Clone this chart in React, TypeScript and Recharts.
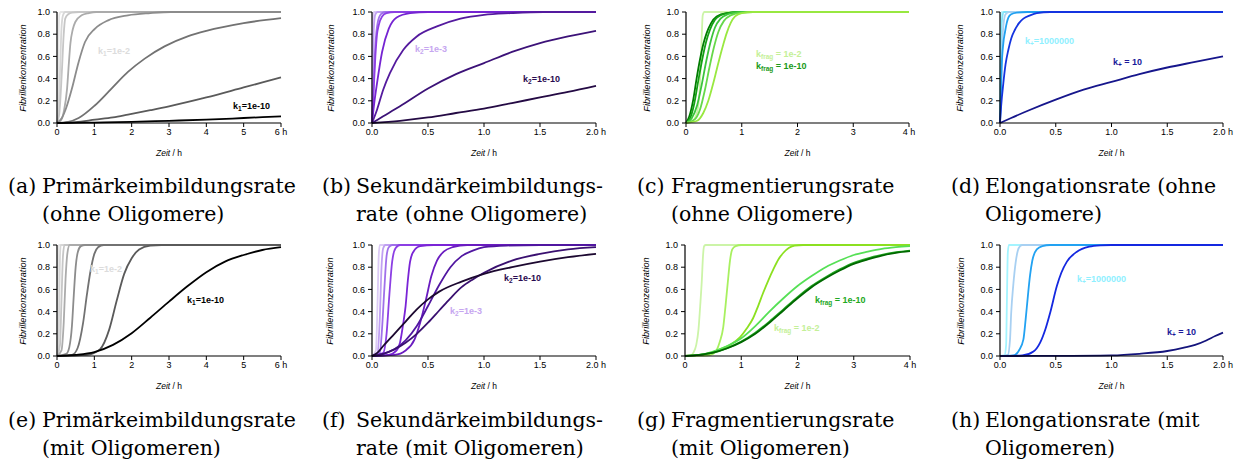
import React from "react";
import { LineChart, Line, XAxis, YAxis } from "recharts";

type Pt = [number, number];

// x ticks
const ticks6 = [0, 1, 2, 3, 4, 5, 6];
const labels6 = ["0", "1", "2", "3", "4", "5", "6 h"];
const ticks2 = [0, 0.5, 1, 1.5, 2];
const labels2 = ["0.0", "0.5", "1.0", "1.5", "2.0 h"];
const ticks4 = [0, 1, 2, 3, 4];
const labels4 = ["0", "1", "2", "3", "4 h"];
const yTicks = [0, 0.2, 0.4, 0.6, 0.8, 1];

// (a) primary nucleation, no oligomers  [t in h, concentration]
const a1: Pt[] = [[0, 0], [0.02, 0.1], [0.04, 0.7], [0.06, 0.97], [0.1, 1], [6, 1]];
const a2: Pt[] = [[0, 0], [0.04, 0.1], [0.08, 0.45], [0.12, 0.85], [0.16, 0.97], [0.22, 1], [6, 1]];
const a3: Pt[] = [[0, 0], [0.06, 0.08], [0.13, 0.46], [0.18, 0.8], [0.22, 0.94], [0.3, 0.98], [0.4, 0.995], [0.6, 1], [6, 1]];
const a4: Pt[] = [[0, 0], [0.1, 0.02], [0.18, 0.1], [0.27, 0.31], [0.32, 0.55], [0.36, 0.72], [0.42, 0.84], [0.49, 0.91], [0.66, 0.97], [0.85, 0.99], [1.05, 1], [6, 1]];
const a5: Pt[] = [[0, 0], [0.13, 0.045], [0.25, 0.14], [0.4, 0.31], [0.58, 0.55], [0.75, 0.73], [1.02, 0.85], [1.37, 0.925], [1.9, 0.97], [2.5, 0.99], [3.05, 1], [6, 1]];
const a6: Pt[] = [[0, 0], [0.3, 0.01], [0.58, 0.045], [1.02, 0.16], [1.46, 0.31], [1.9, 0.46], [2.35, 0.58], [2.88, 0.69], [3.5, 0.78], [4, 0.83], [5, 0.9], [6, 0.945]];
const a7: Pt[] = [[0, 0], [0.5, 0.008], [1.02, 0.03], [1.5, 0.05], [1.9, 0.075], [2.5, 0.115], [3, 0.15], [4, 0.23], [5, 0.32], [6, 0.41]];
const a8: Pt[] = [[0, 0], [1, 0.004], [2, 0.01], [3, 0.02], [4, 0.03], [5, 0.045], [6, 0.06]];

// (b) secondary nucleation, no oligomers
const b1: Pt[] = [[0, 0], [0.004, 0.5], [0.01, 0.97], [0.02, 1], [2, 1]];
const b2: Pt[] = [[0, 0], [0.008, 0.4], [0.016, 0.85], [0.03, 0.98], [0.05, 1], [2, 1]];
const b3: Pt[] = [[0, 0], [0.015, 0.35], [0.03, 0.7], [0.05, 0.9], [0.08, 0.98], [0.12, 1], [2, 1]];
const b4: Pt[] = [[0, 0], [0.015, 0.3], [0.03, 0.6], [0.045, 0.8], [0.06, 0.88], [0.09, 0.96], [0.13, 0.99], [0.2, 1], [2, 1]];
const b5: Pt[] = [[0, 0], [0.02, 0.18], [0.045, 0.36], [0.09, 0.64], [0.15, 0.85], [0.22, 0.95], [0.34, 0.99], [0.5, 1], [2, 1]];
const b6: Pt[] = [[0, 0], [0.045, 0.12], [0.1, 0.3], [0.16, 0.45], [0.28, 0.66], [0.4, 0.78], [0.58, 0.87], [0.79, 0.94], [1, 0.975], [1.24, 0.99], [1.53, 1], [2, 1]];
const b7: Pt[] = [[0, 0], [0.1, 0.06], [0.25, 0.15], [0.5, 0.31], [0.75, 0.44], [1, 0.54], [1.25, 0.64], [1.5, 0.72], [1.75, 0.78], [2, 0.83]];
const b8: Pt[] = [[0, 0], [0.25, 0.02], [0.5, 0.05], [0.75, 0.09], [1, 0.13], [1.25, 0.18], [1.5, 0.23], [1.75, 0.28], [2, 0.335]];

// (c) fragmentation, no oligomers
const c1: Pt[] = [[0, 0], [0.1, 0.01], [0.2, 0.1], [0.25, 0.35], [0.28, 0.75], [0.3, 0.97], [0.33, 1], [4, 1]];
const c2: Pt[] = [[0, 0], [0.06, 0.06], [0.13, 0.21], [0.19, 0.4], [0.25, 0.57], [0.31, 0.71], [0.37, 0.81], [0.45, 0.9], [0.55, 0.96], [0.73, 0.99], [1, 1], [4, 1]];
const c3: Pt[] = [[0, 0], [0.08, 0.05], [0.15, 0.18], [0.22, 0.38], [0.29, 0.57], [0.36, 0.73], [0.43, 0.84], [0.52, 0.93], [0.62, 0.97], [0.8, 0.995], [1.05, 1], [4, 1]];
const c4: Pt[] = [[0, 0], [0.1, 0.04], [0.2, 0.16], [0.28, 0.34], [0.36, 0.55], [0.44, 0.73], [0.52, 0.86], [0.62, 0.94], [0.75, 0.98], [0.95, 1], [4, 1]];
const c5: Pt[] = [[0, 0], [0.15, 0.03], [0.25, 0.12], [0.34, 0.3], [0.42, 0.5], [0.5, 0.68], [0.58, 0.82], [0.68, 0.92], [0.8, 0.97], [1, 0.995], [1.2, 1], [4, 1]];
const c6: Pt[] = [[0, 0], [0.2, 0.02], [0.31, 0.09], [0.4, 0.2], [0.49, 0.36], [0.55, 0.48], [0.61, 0.6], [0.67, 0.71], [0.73, 0.81], [0.8, 0.9], [0.88, 0.96], [1, 0.99], [1.2, 1], [4, 1]];

// (d) elongation, no oligomers
const d1: Pt[] = [[0, 0], [0.003, 0.5], [0.008, 0.95], [0.015, 1], [2, 1]];
const d2: Pt[] = [[0, 0], [0.006, 0.4], [0.012, 0.8], [0.02, 0.95], [0.035, 1], [2, 1]];
const d3: Pt[] = [[0, 0], [0.01, 0.35], [0.02, 0.7], [0.035, 0.92], [0.05, 0.98], [0.08, 1], [2, 1]];
const d4: Pt[] = [[0, 0], [0.008, 0.25], [0.015, 0.5], [0.03, 0.72], [0.045, 0.82], [0.06, 0.9], [0.075, 0.95], [0.1, 0.98], [0.15, 0.995], [0.25, 1], [2, 1]];
const d5: Pt[] = [[0, 0], [0.01, 0.15], [0.03, 0.36], [0.05, 0.53], [0.075, 0.66], [0.1, 0.76], [0.134, 0.84], [0.17, 0.9], [0.21, 0.94], [0.27, 0.97], [0.33, 0.99], [0.45, 1], [2, 1]];
const d6: Pt[] = [[0, 0], [0.1, 0.045], [0.25, 0.11], [0.5, 0.21], [0.75, 0.3], [1, 0.37], [1.25, 0.44], [1.5, 0.5], [1.75, 0.55], [2, 0.6]];

// (e) primary nucleation, with oligomers
const e1: Pt[] = [[0, 0], [0.015, 0.3], [0.03, 0.9], [0.05, 1], [6, 1]];
const e2: Pt[] = [[0, 0], [0.04, 0.1], [0.06, 0.5], [0.08, 0.9], [0.1, 1], [6, 1]];
const e3: Pt[] = [[0, 0], [0.08, 0.1], [0.12, 0.5], [0.16, 0.9], [0.2, 1], [6, 1]];
const e4: Pt[] = [[0, 0], [0.12, 0.05], [0.18, 0.3], [0.23, 0.7], [0.28, 0.93], [0.34, 1], [6, 1]];
const e5: Pt[] = [[0, 0], [0.25, 0.02], [0.33, 0.08], [0.4, 0.27], [0.45, 0.55], [0.5, 0.8], [0.56, 0.94], [0.64, 0.99], [0.75, 1], [6, 1]];
const e6: Pt[] = [[0, 0], [0.4, 0.01], [0.55, 0.07], [0.7, 0.3], [0.8, 0.55], [0.9, 0.77], [1.0, 0.92], [1.1, 0.98], [1.25, 1], [6, 1]];
const e7: Pt[] = [[0, 0], [0.8, 0.01], [1.15, 0.06], [1.4, 0.24], [1.6, 0.5], [1.8, 0.74], [2.0, 0.88], [2.2, 0.96], [2.5, 0.995], [2.8, 1], [6, 1]];
const e8: Pt[] = [[0, 0], [0.5, 0.01], [1, 0.035], [1.5, 0.1], [2, 0.205], [2.5, 0.345], [3, 0.49], [3.5, 0.63], [4, 0.755], [4.5, 0.85], [5, 0.91], [5.5, 0.955], [6, 0.98]];

// (f) secondary nucleation, with oligomers
const f1: Pt[] = [[0, 0], [0.035, 0.05], [0.05, 0.5], [0.06, 0.9], [0.07, 1], [2, 1]];
const f2: Pt[] = [[0, 0], [0.05, 0.03], [0.07, 0.35], [0.085, 0.8], [0.1, 0.97], [0.12, 1], [2, 1]];
const f3: Pt[] = [[0, 0], [0.07, 0.03], [0.09, 0.25], [0.11, 0.6], [0.13, 0.9], [0.15, 0.98], [0.18, 1], [2, 1]];
const f4: Pt[] = [[0, 0], [0.1, 0.03], [0.13, 0.2], [0.155, 0.55], [0.18, 0.85], [0.21, 0.97], [0.25, 1], [2, 1]];
const f5: Pt[] = [[0, 0], [0.15, 0.01], [0.22, 0.05], [0.25, 0.12], [0.28, 0.3], [0.3, 0.45], [0.32, 0.68], [0.34, 0.85], [0.37, 0.94], [0.43, 0.99], [0.55, 1], [2, 1]];
const f6: Pt[] = [[0, 0], [0.2, 0.01], [0.3, 0.05], [0.38, 0.15], [0.43, 0.3], [0.48, 0.5], [0.53, 0.72], [0.58, 0.86], [0.64, 0.94], [0.72, 0.98], [0.85, 1], [2, 1]];
const f7: Pt[] = [[0, 0], [0.1, 0.02], [0.2, 0.06], [0.3, 0.14], [0.4, 0.27], [0.5, 0.45], [0.6, 0.64], [0.7, 0.8], [0.8, 0.9], [0.9, 0.95], [1.0, 0.98], [1.2, 0.995], [1.5, 1], [2, 1]];
const f8: Pt[] = [[0, 0], [0.1, 0.02], [0.2, 0.06], [0.3, 0.12], [0.4, 0.2], [0.5, 0.3], [0.6, 0.41], [0.7, 0.52], [0.8, 0.62], [0.9, 0.69], [1.0, 0.75], [1.25, 0.86], [1.5, 0.92], [1.75, 0.96], [2, 0.98]];
const f9: Pt[] = [[0, 0], [0.05, 0.03], [0.1, 0.09], [0.2, 0.2], [0.3, 0.31], [0.4, 0.42], [0.5, 0.51], [0.6, 0.58], [0.8, 0.67], [1.0, 0.74], [1.25, 0.8], [1.5, 0.85], [1.75, 0.89], [2, 0.92]];

// (g) fragmentation, with oligomers
const g1: Pt[] = [[0, 0], [0.1, 0.005], [0.15, 0.03], [0.2, 0.1], [0.24, 0.24], [0.27, 0.45], [0.3, 0.69], [0.32, 0.9], [0.34, 0.99], [0.37, 1], [4, 1]];
const g2: Pt[] = [[0, 0], [0.4, 0.005], [0.5, 0.02], [0.56, 0.05], [0.62, 0.13], [0.68, 0.26], [0.72, 0.45], [0.76, 0.66], [0.8, 0.86], [0.84, 0.96], [0.9, 0.99], [1, 1], [4, 1]];
const g3: Pt[] = [[0, 0], [0.4, 0.02], [0.62, 0.06], [0.8, 0.1], [0.98, 0.17], [1.1, 0.25], [1.21, 0.34], [1.3, 0.45], [1.39, 0.57], [1.48, 0.68], [1.57, 0.78], [1.66, 0.87], [1.75, 0.93], [1.85, 0.975], [1.95, 0.995], [2.1, 1], [4, 1]];
const g4: Pt[] = [[0, 0], [0.25, 0.01], [0.5, 0.04], [0.75, 0.09], [1, 0.16], [1.25, 0.27], [1.5, 0.4], [1.75, 0.52], [2, 0.63], [2.25, 0.72], [2.5, 0.8], [2.75, 0.86], [3, 0.91], [3.25, 0.94], [3.5, 0.965], [3.75, 0.98], [4, 0.99]];
const g5: Pt[] = [[0, 0], [0.25, 0.01], [0.5, 0.03], [0.75, 0.07], [1, 0.13], [1.25, 0.21], [1.5, 0.31], [1.75, 0.42], [2, 0.53], [2.25, 0.63], [2.5, 0.71], [2.75, 0.78], [3, 0.84], [3.25, 0.88], [3.5, 0.91], [3.75, 0.935], [4, 0.95]];
const g6: Pt[] = [[0, 0], [0.25, 0.01], [0.5, 0.03], [0.75, 0.07], [1, 0.125], [1.25, 0.2], [1.5, 0.3], [1.75, 0.41], [2, 0.52], [2.25, 0.62], [2.5, 0.7], [2.75, 0.77], [3, 0.83], [3.25, 0.87], [3.5, 0.905], [3.75, 0.93], [4, 0.945]];

// (h) elongation, with oligomers
const h1: Pt[] = [[0, 0], [0.04, 0.005], [0.055, 0.1], [0.062, 0.5], [0.07, 0.93], [0.08, 1], [2, 1]];
const h2: Pt[] = [[0, 0], [0.07, 0.01], [0.09, 0.15], [0.1, 0.38], [0.12, 0.65], [0.14, 0.84], [0.16, 0.95], [0.18, 0.99], [0.2, 1], [2, 1]];
const h3: Pt[] = [[0, 0], [0.12, 0.005], [0.17, 0.05], [0.21, 0.15], [0.23, 0.33], [0.25, 0.54], [0.27, 0.73], [0.29, 0.86], [0.33, 0.96], [0.38, 0.99], [0.45, 1], [2, 1]];
const h4: Pt[] = [[0, 0], [0.2, 0.005], [0.3, 0.04], [0.36, 0.12], [0.41, 0.25], [0.45, 0.39], [0.51, 0.63], [0.55, 0.75], [0.6, 0.85], [0.69, 0.94], [0.8, 0.985], [0.9, 0.997], [1, 1], [2, 1]];
const h5: Pt[] = [[0, 0], [0.5, 0.001], [1, 0.006], [1.25, 0.02], [1.5, 0.045], [1.65, 0.075], [1.75, 0.1], [1.85, 0.14], [1.93, 0.18], [2, 0.21]];

const grays = ["#e6e6e6", "#d6d6d6", "#c6c6c6", "#ababab", "#8c8c8c", "#727272", "#5a5a5a", "#000000"];
const purplesB = ["#dccbf5", "#c0a0f2", "#a070ea", "#8c3fe4", "#7524d2", "#541a9e", "#3c1278", "#240a44"];
const greensC = ["#ccf4a8", "#007c00", "#14a014", "#3cc43c", "#66d84a", "#98e840"];
const bluesD = ["#b8f6ff", "#80e4f8", "#a8d2f2", "#20a0f0", "#1434e0", "#16168c"];
const purplesF = ["#dccbf5", "#c0a0f2", "#a070ea", "#8c3fe4", "#7a24d6", "#6a1cc0", "#5016a0", "#3a1070", "#1c0830"];
const greensG = ["#ccf4a8", "#a8f060", "#8ce020", "#56e056", "#22a822", "#006800"];
const bluesH = ["#a4f4ff", "#a8d0f2", "#22a2f2", "#1428e0", "#14147c"];

const SANS = "'Liberation Sans', Arial, sans-serif";
const SERIF = "'DejaVu Serif', serif";
const PLOT_H = 111;

type Note = { x: number; y: number; color: string; k: string; sub: string; rest: string };
type Panel = {
  left: number; top: number; width: number; xMax: number;
  ticks: number[]; tickLabels: string[]; curves: Pt[][]; colors: string[];
  ylabelX: number; notes: Note[];
};

const panels: Panel[] = [
  { left: 57, top: 12, width: 224, xMax: 6, ticks: ticks6, tickLabels: labels6, curves: [a1, a2, a3, a4, a5, a6, a7, a8], colors: grays, ylabelX: 23,
    notes: [{ x: 98, y: 52, color: "#dcdcdc", k: "k", sub: "1", rest: "=1e-2" }, { x: 233, y: 107, color: "#000", k: "k", sub: "1", rest: "=1e-10" }] },
  { left: 372, top: 12, width: 224, xMax: 2, ticks: ticks2, tickLabels: labels2, curves: [b1, b2, b3, b4, b5, b6, b7, b8], colors: purplesB, ylabelX: 331,
    notes: [{ x: 415, y: 50, color: "#c6a6f0", k: "k", sub: "2", rest: "=1e-3" }, { x: 523, y: 80, color: "#2a0a50", k: "k", sub: "2", rest: "=1e-10" }] },
  { left: 686, top: 12, width: 223, xMax: 4, ticks: ticks4, tickLabels: labels4, curves: [c1, c2, c3, c4, c5, c6], colors: greensC, ylabelX: 647,
    notes: [{ x: 756, y: 55, color: "#c4f098", k: "k", sub: "frag", rest: " = 1e-2" }, { x: 756, y: 67, color: "#1a9a1a", k: "k", sub: "frag", rest: " = 1e-10" }] },
  { left: 1000, top: 12, width: 223, xMax: 2, ticks: ticks2, tickLabels: labels2, curves: [d1, d2, d3, d4, d5, d6], colors: bluesD, ylabelX: 960,
    notes: [{ x: 1025, y: 42, color: "#90f0ff", k: "k", sub: "+", rest: "=1000000" }, { x: 1113, y: 63, color: "#1a1a9a", k: "k", sub: "+", rest: " = 10" }] },
  { left: 57, top: 245, width: 224, xMax: 6, ticks: ticks6, tickLabels: labels6, curves: [e1, e2, e3, e4, e5, e6, e7, e8], colors: grays, ylabelX: 23,
    notes: [{ x: 90, y: 270, color: "#dcdcdc", k: "k", sub: "1", rest: "=1e-2" }, { x: 187, y: 301, color: "#000", k: "k", sub: "1", rest: "=1e-10" }] },
  { left: 372, top: 245, width: 224, xMax: 2, ticks: ticks2, tickLabels: labels2, curves: [f1, f2, f3, f4, f5, f6, f7, f8, f9], colors: purplesF, ylabelX: 330,
    notes: [{ x: 504, y: 279, color: "#2a0a50", k: "k", sub: "2", rest: "=1e-10" }, { x: 450, y: 312, color: "#c6a6f0", k: "k", sub: "2", rest: "=1e-3" }] },
  { left: 685, top: 245, width: 225, xMax: 4, ticks: ticks4, tickLabels: labels4, curves: [g1, g2, g3, g4, g5, g6], colors: greensG, ylabelX: 646,
    notes: [{ x: 815, y: 301, color: "#22a822", k: "k", sub: "frag", rest: " = 1e-10" }, { x: 774, y: 329, color: "#c4f098", k: "k", sub: "frag", rest: " = 1e-2" }] },
  { left: 1000, top: 245, width: 223, xMax: 2, ticks: ticks2, tickLabels: labels2, curves: [h1, h2, h3, h4, h5], colors: bluesH, ylabelX: 961,
    notes: [{ x: 1077, y: 280, color: "#90f0ff", k: "k", sub: "+", rest: "=1000000" }, { x: 1167, y: 333, color: "#1a1a9a", k: "k", sub: "+", rest: " = 10" }] },
];

const captions = [
  { x: 8, y: 172, tag: "(a)", lines: ["Primärkeimbildungsrate", "(ohne Oligomere)"] },
  { x: 322, y: 172, tag: "(b)", lines: ["Sekundärkeimbildungs-", "rate (ohne Oligomere)"] },
  { x: 637, y: 172, tag: "(c)", lines: ["Fragmentierungsrate", "(ohne Oligomere)"] },
  { x: 951, y: 172, tag: "(d)", lines: ["Elongationsrate (ohne", "Oligomere)"] },
  { x: 8, y: 406, tag: "(e)", lines: ["Primärkeimbildungsrate", "(mit Oligomeren)"] },
  { x: 322, y: 406, tag: "(f)", lines: ["Sekundärkeimbildungs-", "rate (mit Oligomeren)"] },
  { x: 637, y: 406, tag: "(g)", lines: ["Fragmentierungsrate", "(mit Oligomeren)"] },
  { x: 951, y: 406, tag: "(h)", lines: ["Elongationsrate (mit", "Oligomeren)"] },
];

const toRows = (pts: Pt[]) => pts.map(([t, c]) => ({ t, c }));

function SmallChart({ p }: { p: Panel }) {
  const ML = 40, MT = 5, MR = 14, XH = 20;
  const tickStyle = { fontSize: 9, fill: "#000", fontFamily: SANS };
  return (
    <div style={{ position: "absolute", left: p.left - ML, top: p.top - MT }}>
      <LineChart width={ML + p.width + MR} height={MT + PLOT_H + XH} margin={{ top: MT, right: MR, bottom: 0, left: 0 }}>
        <XAxis xAxisId="top" orientation="top" type="number" domain={[0, p.xMax]} height={0} tick={false} tickLine={false} axisLine={{ stroke: "#8a8a8a" }} />
        <YAxis yAxisId="right" orientation="right" type="number" domain={[0, 1]} width={0} tick={false} tickLine={false} axisLine={{ stroke: "#8a8a8a" }} />
        <XAxis
          type="number"
          dataKey="t"
          domain={[0, p.xMax]}
          ticks={p.ticks}
          interval={0}
          height={XH}
          tickSize={4}
          tickMargin={2}
          tick={tickStyle}
          tickFormatter={(v: number) => p.tickLabels[p.ticks.indexOf(v)] ?? String(v)}
          axisLine={{ stroke: "#000", strokeWidth: 1.2 }}
          tickLine={{ stroke: "#000" }}
        />
        <YAxis
          type="number"
          domain={[0, 1]}
          ticks={yTicks}
          interval={0}
          width={ML}
          tickSize={4}
          tickMargin={3}
          tick={tickStyle}
          tickFormatter={(v: number) => v.toFixed(1)}
          axisLine={{ stroke: "#000", strokeWidth: 1.2 }}
          tickLine={{ stroke: "#000" }}
        />
        {p.curves.map((pts, i) => (
          <Line
            key={i}
            data={toRows(pts)}
            dataKey="c"
            type="monotone"
            stroke={p.colors[i]}
            strokeWidth={1.8}
            dot={false}
            isAnimationActive={false}
          />
        ))}
      </LineChart>
    </div>
  );
}

export default function App() {
  return (
    <div style={{ position: "absolute", left: 0, top: 0, width: 1245, height: 466, background: "#fff", overflow: "hidden" }}>
      {panels.map((p, i) => (
        <React.Fragment key={i}>
          <SmallChart p={p} />
          <div
            style={{
              position: "absolute", left: p.ylabelX, top: p.top + PLOT_H / 2,
              transform: "translate(-50%, -50%) rotate(-90deg)", whiteSpace: "nowrap",
              fontFamily: SANS, fontStyle: "italic", fontSize: 9.2, color: "#000",
            }}
          >
            Fibrillenkonzentration
          </div>
          <div
            style={{
              position: "absolute", left: p.left + p.width / 2, top: p.top + PLOT_H + 30,
              transform: "translate(-50%, -50%)", whiteSpace: "nowrap",
              fontFamily: SANS, fontSize: 8.5, color: "#000",
            }}
          >
            <i>Zeit</i> / h
          </div>
          {p.notes.map((n, j) => (
            <div
              key={j}
              style={{
                position: "absolute", left: n.x, top: n.y, transform: "translateY(-50%)",
                whiteSpace: "nowrap", fontFamily: SANS, fontWeight: 700, fontSize: 9, color: n.color, lineHeight: "10px",
              }}
            >
              {n.k}
              <sub style={{ fontSize: 6.5, verticalAlign: "-2px" }}>{n.sub}</sub>
              {n.rest}
            </div>
          ))}
        </React.Fragment>
      ))}
      {captions.map((c, i) => (
        <div
          key={i}
          style={{ position: "absolute", left: c.x, top: c.y, display: "flex", fontFamily: SERIF, fontSize: 20.5, lineHeight: "28px", color: "#000", whiteSpace: "nowrap" }}
        >
          <span style={{ width: 34, flex: "none" }}>{c.tag}</span>
          <div>
            {c.lines.map((l, j) => (
              <div key={j}>{l}</div>
            ))}
          </div>
        </div>
      ))}
    </div>
  );
}
